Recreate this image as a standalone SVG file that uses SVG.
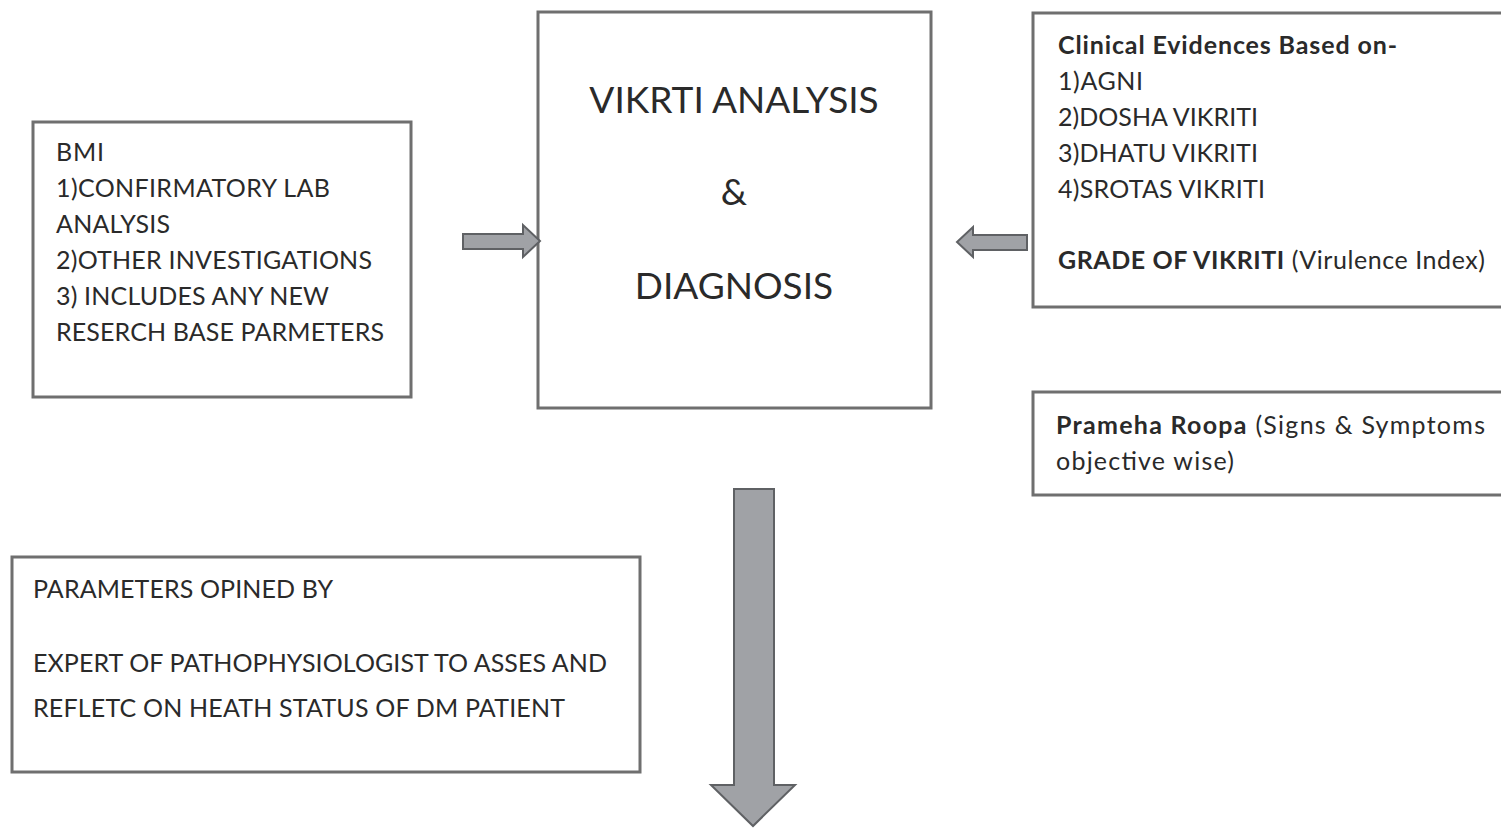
<svg xmlns="http://www.w3.org/2000/svg" width="1501" height="828" viewBox="0 0 1501 828">
<style>
.box{fill:#fff;stroke:#6f6f6f;stroke-width:3}
.t{font-family:Lato,"Liberation Sans",sans-serif;font-size:25px;fill:#2a2a2a}
.b{font-weight:bold}
.big{font-family:Lato,"Liberation Sans",sans-serif;font-size:37px;fill:#2a2a2a;text-anchor:middle}
.arr{fill:#a0a2a6;stroke:#5f6164;stroke-width:2;stroke-linejoin:miter}
</style>
<rect width="1501" height="828" fill="#fff"/>
<g id="left">
<rect class="box" x="33" y="122" width="378" height="275"/>
<text class="t" x="56" y="161" textLength="48" lengthAdjust="spacing">BMI</text>
<text class="t" x="56" y="197" textLength="274" lengthAdjust="spacing">1)CONFIRMATORY LAB</text>
<text class="t" x="56" y="233" textLength="114" lengthAdjust="spacing">ANALYSIS</text>
<text class="t" x="56" y="269" textLength="316" lengthAdjust="spacing">2)OTHER INVESTIGATIONS</text>
<text class="t" x="56" y="305" textLength="273" lengthAdjust="spacing">3) INCLUDES ANY NEW</text>
<text class="t" x="56" y="341" textLength="328" lengthAdjust="spacing">RESERCH BASE PARMETERS</text>
</g>
<g id="center">
<rect class="box" x="538" y="12" width="393" height="396"/>
<text class="big" x="734" y="113">VIKRTI ANALYSIS</text>
<text class="big" x="734" y="205">&amp;</text>
<text class="big" x="734" y="299">DIAGNOSIS</text>
</g>
<g id="clinical">
<rect class="box" x="1033" y="13" width="480" height="294"/>
<text class="t b" x="1058" y="54" textLength="339" lengthAdjust="spacing">Clinical Evidences Based on-</text>
<text class="t" x="1058" y="90" textLength="85" lengthAdjust="spacing">1)AGNI</text>
<text class="t" x="1058" y="126" textLength="200" lengthAdjust="spacing">2)DOSHA VIKRITI</text>
<text class="t" x="1058" y="162" textLength="200" lengthAdjust="spacing">3)DHATU VIKRITI</text>
<text class="t" x="1058" y="198" textLength="207" lengthAdjust="spacing">4)SROTAS VIKRITI</text>
<text class="t" x="1058" y="269" textLength="427" lengthAdjust="spacing"><tspan class="b">GRADE OF VIKRITI</tspan> (Virulence Index)</text>
</g>
<g id="roopa">
<rect class="box" x="1033" y="392" width="480" height="103"/>
<text class="t" x="1056" y="434" textLength="429" lengthAdjust="spacing"><tspan class="b">Prameha Roopa</tspan> (Signs &amp; Symptoms</text>
<text class="t" x="1056" y="470" textLength="178" lengthAdjust="spacing">objective wise)</text>
</g>
<g id="experts">
<rect class="box" x="12" y="557" width="628" height="215"/>
<text class="t" x="33" y="598" textLength="300" lengthAdjust="spacing">PARAMETERS OPINED BY</text>
<text class="t" x="33" y="672" textLength="574" lengthAdjust="spacing">EXPERT OF PATHOPHYSIOLOGIST TO ASSES AND</text>
<text class="t" x="33" y="717" textLength="532" lengthAdjust="spacing">REFLETC ON HEATH STATUS OF DM PATIENT</text>
</g>
<g id="connectors">
<polygon class="arr" points="463,234 523,234 523,225 540,241 523,257 523,249 463,249"/>
<polygon class="arr" points="1027,235 973,235 973,227 957,242 973,257 973,250 1027,250"/>
<polygon class="arr" points="734,489 774,489 774,785 795,785 753,826 711,785 734,785"/>
</g>
</svg>
